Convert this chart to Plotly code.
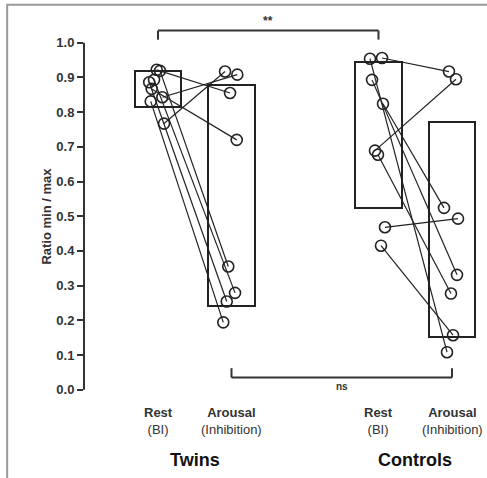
import plotly.graph_objects as go

# ---- data ----
group_pos = [0, 1, 3, 4]            # Twins Rest, Twins Arousal, Controls Rest, Controls Arousal
box_low = [0.815, 0.242, 0.524, 0.153]
box_high = [0.920, 0.879, 0.945, 0.772]

twins_rest = [0.922, 0.919, 0.893, 0.886, 0.867, 0.843, 0.831, 0.767]
twins_arousal = [0.855, 0.355, 0.279, 0.254, 0.720, 0.908, 0.194, 0.917]
twins_rest_jit = [-0.018, 0.027, -0.054, -0.120, -0.086, 0.059, -0.099, 0.082]
twins_arousal_jit = [-0.020, -0.044, 0.048, -0.065, 0.071, 0.079, -0.112, -0.088]

controls_rest = [0.954, 0.956, 0.893, 0.824, 0.689, 0.677, 0.468, 0.415]
controls_arousal = [0.108, 0.917, 0.331, 0.524, 0.895, 0.277, 0.493, 0.157]
controls_rest_jit = [-0.116, 0.048, -0.088, 0.061, -0.048, -0.007, 0.088, 0.034]
controls_arousal_jit = [-0.068, -0.041, 0.068, -0.109, 0.054, -0.014, 0.082, 0.014]

cond_labels = ["<b>Rest</b><br>(BI)", "<b>Arousal</b><br>(Inhibition)",
               "<b>Rest</b><br>(BI)", "<b>Arousal</b><br>(Inhibition)"]
group_labels = ["Twins", "Controls"]
group_centers = [0.5, 3.5]
y_ticks = [0.0, 0.1, 0.2, 0.3, 0.4, 0.5, 0.6, 0.7, 0.8, 0.9, 1.0]
y_title = "Ratio min / max"

fig = go.Figure()

# boxes
fig.add_trace(go.Bar(
    x=group_pos, y=[h - l for h, l in zip(box_high, box_low)], base=box_low,
    width=0.63, marker=dict(color="rgba(0,0,0,0)", line=dict(color="#222", width=2)),
    hoverinfo="skip", showlegend=False))

def add_pairs(rest, arousal, rj, aj, xr, xa):
    lx, ly = [], []
    for r, a, j1, j2 in zip(rest, arousal, rj, aj):
        lx += [xr + j1, xa + j2, None]
        ly += [r, a, None]
    fig.add_trace(go.Scatter(x=lx, y=ly, mode="lines",
                             line=dict(color="#222", width=1.2),
                             hoverinfo="skip", showlegend=False))
    fig.add_trace(go.Scatter(
        x=[xr + j for j in rj] + [xa + j for j in aj], y=list(rest) + list(arousal),
        mode="markers",
        marker=dict(symbol="circle-open", size=11, color="#222", line=dict(width=1.6)),
        showlegend=False))

add_pairs(twins_rest, twins_arousal, twins_rest_jit, twins_arousal_jit, 0, 1)
add_pairs(controls_rest, controls_arousal, controls_rest_jit, controls_arousal_jit, 3, 4)

shapes = []
# outer frame (only top and left edges fall inside the picture)
shapes.append(dict(type="rect", xref="paper", yref="paper", x0=-0.194, x1=1.06, y0=-0.25, y1=1.026,
                   line=dict(color="#999", width=2), fillcolor="rgba(0,0,0,0)", layer="below"))
# y axis line
shapes.append(dict(type="line", xref="paper", yref="y", x0=0, x1=0, y0=0, y1=1.0,
                   line=dict(color="#333", width=2)))
# significance brackets
def bracket(x0, x1, yb, yt):
    return [dict(type="line", xref="x", yref="y", x0=x0, x1=x1, y0=yb, y1=yb, line=dict(color="#333", width=2)),
            dict(type="line", xref="x", yref="y", x0=x0, x1=x0, y0=yb, y1=yt, line=dict(color="#333", width=2)),
            dict(type="line", xref="x", yref="y", x0=x1, x1=x1, y0=yb, y1=yt, line=dict(color="#333", width=2))]
shapes += bracket(0, 3, 1.035, 1.009)
shapes += bracket(1, 4, 0.035, 0.062)

annotations = []
annotations.append(dict(x=1.5, y=1.062, xref="x", yref="y", text="<b>**</b>", showarrow=False,
                        font=dict(size=12, color="#333")))
annotations.append(dict(x=2.5, y=0.010, xref="x", yref="y", text="<b>ns</b>", showarrow=False,
                        font=dict(size=10, color="#333")))
for xp, lab in zip(group_pos, cond_labels):
    annotations.append(dict(x=xp, y=-0.036, xref="x", yref="paper", text=lab, showarrow=False,
                            font=dict(size=13, color="#333"), yanchor="middle"))
for xc, lab in zip(group_centers, group_labels):
    annotations.append(dict(x=xc, y=-0.134, xref="x", yref="paper", text="<b>" + lab + "</b>",
                            showarrow=False, font=dict(size=18, color="#111"), yanchor="middle"))
annotations.append(dict(x=-0.119, y=0.5, xref="paper", yref="y", text="<b>" + y_title + "</b>",
                        textangle=-90, showarrow=False, font=dict(size=13, color="#333")))

fig.update_layout(
    width=487, height=478,
    margin=dict(l=84, r=7, t=15, b=71),
    plot_bgcolor="white", paper_bgcolor="white",
    font=dict(family="Liberation Sans, Arial, sans-serif", color="#333"),
    shapes=shapes, annotations=annotations,
    xaxis=dict(range=[-1.007, 4.381], visible=False, showgrid=False, zeroline=False),
    yaxis=dict(range=[-0.05, 1.08], tickvals=y_ticks, ticktext=["<b>%.1f</b>" % v for v in y_ticks],
               ticks="outside", ticklen=6, tickwidth=2, tickcolor="#333",
               showgrid=False, zeroline=False, showline=False,
               tickfont=dict(size=13, color="#333")),
    bargap=0,
)

fig.write_html("out.html", config={"displayModeBar": False},
               post_script="document.body.style.margin='0';document.body.style.overflow='hidden';")
